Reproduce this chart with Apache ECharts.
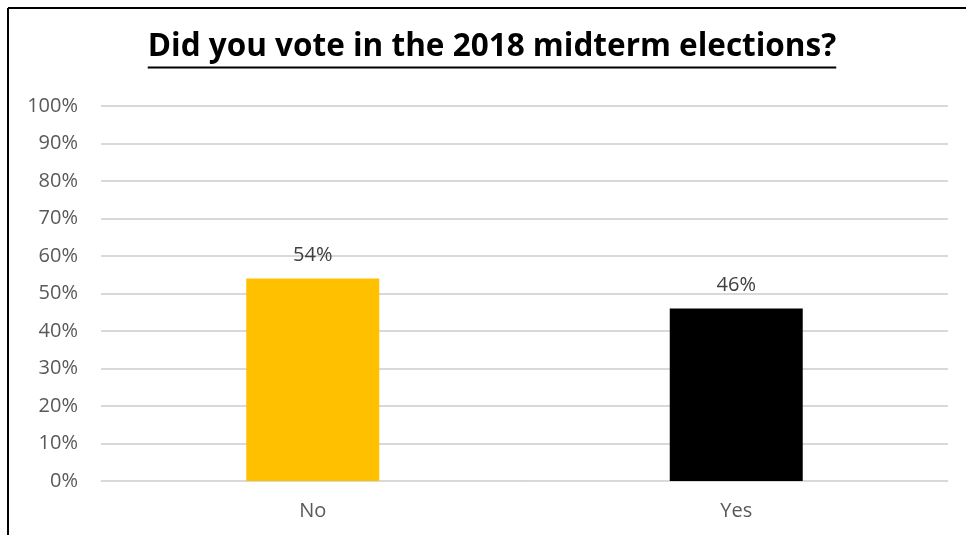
<!DOCTYPE html>
<html>
<head>
<meta charset="utf-8">
<script src="https://cdn.jsdelivr.net/npm/echarts@6/dist/echarts.min.js"></script>
<style>
  html, body { margin: 0; padding: 0; background: #ffffff; }
  #chart { width: 966px; height: 535px; }
</style>
</head>
<body>
<div id="chart"></div>
<script>
// Survey answers and share of respondents (%)
const categories = ['No', 'Yes'];
const shares = [54, 46];
const barColors = ['#FFC000', '#000000'];
const titleText = 'Did you vote in the 2018 midterm elections?';

const titleFont = 'bold 31.5px "Open Sans"';
const titleCenterX = 492;
const titleBaseline = 63;

// Measure the title so its underline spans the text exactly
const ctx = document.createElement('canvas').getContext('2d');
ctx.font = titleFont;
const titleWidth = ctx.measureText(titleText).width;

const chart = echarts.init(document.getElementById('chart'), null, { renderer: 'canvas' });

chart.setOption({
  animation: false,
  backgroundColor: '#ffffff',
  graphic: [
    { type: 'line', shape: { x1: 8, y1: 8, x2: 966, y2: 8 }, style: { stroke: '#000', lineWidth: 2 } },
    { type: 'line', shape: { x1: 8, y1: 8, x2: 8, y2: 535 }, style: { stroke: '#000', lineWidth: 2 } },
    {
      type: 'text',
      x: titleCenterX, y: titleBaseline,
      style: {
        text: titleText, font: titleFont, fill: '#000',
        textAlign: 'center', textVerticalAlign: 'bottom'
      }
    },
    {
      type: 'line',
      shape: { x1: titleCenterX - titleWidth / 2, y1: 67.5, x2: titleCenterX + titleWidth / 2, y2: 67.5 },
      style: { stroke: '#000', lineWidth: 2 }
    }
  ],
  grid: { left: 101, right: 18, top: 106, bottom: 54, containLabel: false },
  xAxis: {
    type: 'category',
    data: categories,
    axisLine: { show: true, lineStyle: { color: '#d9d9d9', width: 1 } },
    axisTick: { show: false },
    axisLabel: { color: '#595959', fontFamily: 'Open Sans', fontSize: 20, margin: 20 }
  },
  yAxis: {
    type: 'value',
    min: 0, max: 100, interval: 10,
    axisLine: { show: false },
    axisTick: { show: false },
    splitLine: { lineStyle: { color: '#d9d9d9', width: 2 } },
    axisLabel: {
      color: '#595959', fontFamily: 'Open Sans', fontSize: 20, margin: 23,
      formatter: v => v + '%'
    }
  },
  series: [{
    type: 'bar',
    barWidth: '31.4%',
    data: shares.map((v, i) => ({ value: v, itemStyle: { color: barColors[i] } })),
    label: {
      show: true, position: 'top', distance: 13,
      color: '#404040', fontFamily: 'Open Sans', fontSize: 20,
      formatter: p => p.value + '%'
    }
  }]
});
</script>
</body>
</html>
